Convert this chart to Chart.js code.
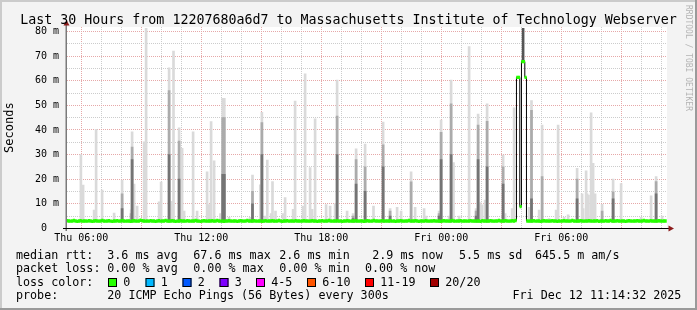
<!DOCTYPE html>
<html>
<head>
<meta charset="utf-8">
<script src="https://cdn.jsdelivr.net/npm/chart.js@4.4.1/dist/chart.umd.min.js"></script>
<style>
  html, body { margin: 0; padding: 0; background: #f3f3f3; }
  canvas { display: block; }
</style>
</head>
<body>
<canvas id="chart" width="697" height="310"></canvas>
<script>
const MONO = "'DejaVu Sans Mono', monospace";

const title = "Last 30 Hours from 12207680a6d7 to Massachusetts Institute of Technology Webserver";

// y axis (milliseconds)
const yTickValues = [0, 5, 10, 15, 20, 25, 30, 35, 40, 45, 50, 55, 60, 65, 70, 75, 80];
const yLabelValues = [0, 10, 20, 30, 40, 50, 60, 70, 80];
const yLabelText = ["0  ", "10 m", "20 m", "30 m", "40 m", "50 m", "60 m", "70 m", "80 m"];

// x axis (hours since Thu 00:00)
const xTickHours = [6, 7, 8, 9, 10, 11, 12, 13, 14, 15, 16, 17, 18, 19, 20, 21, 22, 23, 24, 25, 26, 27, 28, 29, 30, 31, 32, 33, 34, 35];
const xLabelHours = [6, 12, 18, 24, 30];
const xLabelText = ["Thu 06:00", "Thu 12:00", "Thu 18:00", "Fri 00:00", "Fri 06:00"];

// median rtt, one value every 5 minutes starting Thu 05:18
const medianStart = 5.3;
const medianStep = 5 / 60;
const median = [
  3.1, 3.0, 2.9, 3.0, 3.2, 3.0, 2.8, 3.0, 3.1, 2.9, 3.0, 3.0, 2.9, 3.1, 3.0, 2.8, 3.0, 3.1, 3.0, 2.9, 3.0, 3.2, 3.0, 2.9,
  3.0, 3.1, 2.9, 2.8, 3.0, 3.0, 3.1, 2.9, 3.0, 3.2, 3.0, 2.9, 3.0, 3.0, 2.8, 3.0, 3.1, 3.0, 2.9, 3.0, 3.3, 3.1, 3.0, 2.9,
  3.0, 2.9, 3.1, 3.0, 3.0, 2.8, 3.0, 3.1, 2.9, 3.0, 3.0, 3.2, 3.0, 2.9, 3.0, 3.1, 3.0, 2.8, 2.9, 3.0, 3.1, 3.0, 3.0, 2.9,
  3.1, 3.0, 2.9, 3.0, 3.0, 3.2, 3.0, 2.9, 2.8, 3.0, 3.1, 3.0, 2.9, 3.0, 3.0, 3.1, 2.9, 3.0, 3.2, 3.0, 2.9, 3.0, 2.8, 3.0,
  3.0, 3.1, 3.0, 2.9, 3.0, 3.0, 2.8, 3.0, 3.1, 3.0, 2.9, 3.0, 3.2, 3.0, 3.0, 2.9, 3.1, 3.0, 2.9, 3.0, 3.0, 2.8, 3.0, 3.1,
  2.9, 3.0, 3.0, 3.1, 3.0, 2.9, 3.0, 3.2, 3.0, 2.8, 3.0, 3.0, 3.1, 2.9, 3.0, 3.0, 2.9, 3.1, 3.0, 3.0, 2.9, 3.0, 3.1, 3.0,
  3.0, 2.9, 3.0, 3.1, 3.0, 3.0, 2.8, 3.0, 3.0, 3.1, 2.9, 3.0, 3.0, 3.2, 3.0, 2.9, 3.0, 3.0, 3.1, 2.9, 3.0, 2.8, 3.0, 3.0,
  3.1, 3.0, 2.9, 3.0, 3.0, 3.1, 3.0, 2.9, 3.0, 3.0, 2.8, 3.0, 3.1, 3.0, 2.9, 3.0, 3.2, 3.0, 3.0, 2.9, 3.0, 3.1, 2.9, 3.0,
  3.0, 3.0, 3.1, 2.9, 3.0, 2.8, 3.0, 3.0, 3.1, 3.0, 2.9, 3.0, 3.0, 3.2, 2.9, 3.0, 3.0, 3.1, 3.0, 2.8, 3.0, 3.0, 2.9, 3.1,
  3.0, 2.9, 3.0, 3.0, 3.1, 3.0, 2.9, 3.0, 2.8, 3.0, 3.1, 3.0, 3.0, 2.9, 3.0, 3.2, 3.0, 2.9, 3.0, 3.0, 3.1, 2.9, 3.0, 3.0,
  2.9, 3.0, 3.1, 3.0, 3.0, 2.9, 3.0, 3.0, 2.8, 3.1, 3.0, 3.0, 2.9, 3.0, 3.1, 3.0, 2.9, 3.0, 3.0, 3.2, 3.0, 2.9, 3.0, 3.1,
  3.0, 2.9, 3.0, 3.1, 3.0, 3.2, 61.4, 61.4, 8.8, 67.8, 67.8, 61.4, 3.0, 2.9, 3.0, 3.0, 3.1, 2.9, 3.0, 3.0, 2.8, 3.0, 3.1, 3.0,
  3.0, 2.9, 3.0, 3.1, 3.0, 3.0, 2.8, 3.0, 2.9, 3.0, 3.1, 3.0, 3.0, 2.9, 3.0, 3.2, 3.0, 2.9, 3.0, 3.0, 3.1, 3.0, 2.9, 3.0,
  3.0, 3.1, 3.0, 2.9, 3.0, 3.0, 3.1, 2.8, 3.0, 3.0, 2.9, 3.1, 3.0, 3.0, 3.2, 2.9, 3.0, 3.0, 3.1, 3.0, 2.9, 3.0, 3.0, 2.8,
  3.0, 3.1, 3.0, 2.9, 3.0, 3.0, 3.1, 3.0, 2.9, 3.0, 3.2, 3.0, 3.0, 2.9, 3.1, 3.0, 3.0, 2.9, 3.0, 3.1, 3.0, 2.9, 3.0, 3.0
];

// smoke spikes: hour, top of light smoke, top of mid smoke, top of dark smoke (0 = none)
const smokeFloor = 2.6;
const smokeHour = [5.98, 6.09, 6.64, 6.74, 7.04, 7.64, 8.04, 8.49, 8.54, 8.64, 8.79, 9.14, 9.24, 9.89, 9.99,
  10.39, 10.54, 10.61, 10.89, 11.04, 11.14, 11.59, 11.79, 12.29, 12.39, 12.49, 12.64, 12.96, 13.07, 13.15,
  13.39, 14.44, 14.56, 14.95, 15.03, 15.19, 15.30, 15.49, 15.56, 15.71, 16.09, 16.19, 16.59, 16.69, 17.09,
  17.19, 17.44, 17.54, 17.69, 18.24, 18.44, 18.69, 18.79, 19.29, 19.59, 19.74, 20.19, 20.61, 21.09, 21.44,
  21.79, 21.99, 22.49, 22.69, 23.14, 23.24, 23.89, 23.99, 24.39, 24.49, 24.61, 24.89, 25.39, 25.74, 25.84,
  25.94, 26.04, 26.19, 26.29, 27.09, 27.19, 27.54, 27.64, 28.39, 28.51, 28.89, 29.04, 29.39, 29.74, 29.84,
  30.14, 30.34, 30.79, 31.04, 31.09, 31.24, 31.29, 31.36, 31.49, 31.59, 31.69, 32.04, 32.59, 32.99, 33.99,
  34.49, 34.74, 35.04];
const smokeMax = [30, 17.6, 7.4, 40.3, 15.6, 6.2, 19.6, 7.5, 39.3, 18, 9, 35.2, 81.4, 10.8, 18.8,
  65.3, 11, 72.1, 40.9, 32.5, 7, 39.3, 7, 23, 9.6, 43.4, 27.5, 6, 52.9, 52.9,
  4.5, 4.5, 21.7, 17.7, 47.2, 5, 27.8, 6, 19, 7, 6, 12.5, 7.7, 51.8, 9,
  62.8, 24.7, 7.7, 44.5, 9.7, 9, 10, 60.3, 7, 6, 32.3, 34.3, 9, 43.2, 8,
  8.5, 7, 23, 8.5, 8, 5, 7, 44, 5, 60.3, 26.7, 5, 73.9, 8, 46.5,
  10.5, 9.5, 11.5, 50.6, 29.8, 6, 8, 49, 8.5, 52, 7.4, 42, 4, 7.4, 42,
  4.5, 5.5, 24.4, 14, 8, 23.4, 14, 13.5, 47, 26.4, 14, 9.8, 20, 18.2, 4.5,
  13.2, 21, 5];
const smokeMid = [0, 0, 0, 0, 0, 0, 14, 6, 33, 0, 0, 0, 0, 0, 0,
  56, 0, 0, 35.5, 0, 0, 0, 0, 0, 0, 0, 0, 0, 45, 45,
  0, 0, 15, 0, 43, 0, 0, 0, 0, 0, 0, 0, 0, 0, 0,
  0, 0, 0, 0, 0, 0, 0, 45.7, 0, 5, 28, 25, 0, 34, 7,
  0, 0, 18.9, 0, 0, 0, 6, 39, 0, 50.6, 0, 0, 0, 7, 42,
  0, 0, 0, 43.5, 25, 0, 0, 0, 0, 48, 0, 21, 0, 0, 0,
  0, 0, 20, 0, 0, 0, 0, 0, 0, 0, 0, 7, 14.8, 0, 0,
  0, 19, 0];
const smokeDark = [0, 0, 0, 0, 0, 0, 8, 0, 28, 0, 0, 0, 0, 0, 0,
  30, 0, 0, 20, 0, 0, 0, 0, 0, 0, 0, 0, 0, 22, 22,
  0, 0, 10, 0, 30, 0, 0, 0, 0, 0, 0, 0, 0, 0, 0,
  0, 0, 0, 0, 0, 0, 0, 30, 0, 4, 18, 15, 0, 25, 5,
  0, 0, 0, 0, 0, 0, 5, 28, 0, 30, 0, 0, 0, 5, 28,
  0, 0, 0, 25, 18, 0, 0, 0, 0, 12, 0, 0, 0, 0, 0,
  0, 0, 12, 0, 0, 0, 0, 0, 0, 0, 0, 0, 12, 0, 0,
  0, 14, 0];

// smoke sitting above the raised median
const highSmokeHour = [28.09];
const highSmokeLow = [67.8];
const highSmokeHigh = [81.4];

// legend rows
const statsRtt = ["3.6 ms avg", "67.6 ms max", "2.6 ms min", "2.9 ms now", "5.5 ms sd", "645.5 m am/s"];
const statsLoss = ["0.00 % avg", "0.00 % max", "0.00 % min", "0.00 % now"];
const lossLabels = ["0", "1", "2", "3", "4-5", "6-10", "11-19", "20/20"];
const lossColors = ["#26ff00", "#00b8ff", "#0059ff", "#7e00ff", "#ff00ff", "#ff5500", "#ff0000", "#a10000"];
const probeText = "20 ICMP Echo Pings (56 Bytes) every 300s";
const stampText = "Fri Dec 12 11:14:32 2025";

const PINK = "#e6a8a8";
const GRAY = "#cccccc";

function bars(valueArr, lowArr) {
  const out = [];
  smokeHour.forEach((h, k) => {
    if (valueArr[k] > 0) out.push({ x: h, y: [lowArr ? lowArr[k] : smokeFloor, valueArr[k]] });
  });
  return out;
}

const decor = {
  id: "decor",
  beforeDraw(chart) {
    const { ctx, chartArea: a } = chart;
    ctx.save();
    ctx.fillStyle = "#f3f3f3";
    ctx.fillRect(0, 0, 697, 310);
    ctx.fillStyle = "#cbcbcb";
    ctx.fillRect(0, 0, 697, 2);
    ctx.fillRect(0, 0, 2, 310);
    ctx.fillStyle = "#9a9a9a";
    ctx.fillRect(0, 308, 697, 2);
    ctx.fillRect(695, 0, 2, 310);
    ctx.fillStyle = "#ffffff";
    ctx.fillRect(a.left, a.top, a.right - a.left, a.bottom - a.top);
    ctx.restore();
  },
  afterDatasetsDraw(chart) {
    const { ctx } = chart;
    ctx.save();
    // axes
    ctx.fillStyle = "#7a7a7a";
    ctx.fillRect(65.5, 23, 1.5, 208);
    ctx.strokeStyle = "#000";
    ctx.lineWidth = 1;
    ctx.beginPath();
    ctx.moveTo(63, 228.5);
    ctx.lineTo(669, 228.5);
    ctx.stroke();
    // arrows
    ctx.fillStyle = "#8c1c1c";
    ctx.beginPath();
    ctx.moveTo(66.5, 20);
    ctx.lineTo(63.5, 25.5);
    ctx.lineTo(69.5, 25.5);
    ctx.closePath();
    ctx.fill();
    ctx.beginPath();
    ctx.moveTo(674, 228.5);
    ctx.lineTo(668.5, 225.5);
    ctx.lineTo(668.5, 231.5);
    ctx.closePath();
    ctx.fill();
    ctx.restore();
  },
  afterDraw(chart) {
    const { ctx } = chart;
    ctx.save();
    ctx.fillStyle = "#000";
    ctx.textBaseline = "alphabetic";
    ctx.textAlign = "center";
    ctx.font = "13.3px " + MONO;
    ctx.fillText(title, 348.5, 24);

    ctx.textAlign = "left";
    ctx.font = "11.7px " + MONO;
    const rows = [258.5, 272, 285.6, 299.2];
    ctx.fillText("median rtt:", 16, rows[0]);
    [107.3, 193.3, 279.3, 372.3, 459, 535].forEach((x, k) => ctx.fillText(statsRtt[k], x, rows[0]));
    ctx.fillText("packet loss:", 16, rows[1]);
    [107.3, 193.3, 279.3, 365].forEach((x, k) => ctx.fillText(statsLoss[k], x, rows[1]));
    ctx.fillText("loss color:", 16, rows[2]);
    [108, 145.5, 182.5, 219.5, 256, 307, 365, 430].forEach((x, k) => {
      ctx.fillStyle = lossColors[k];
      ctx.fillRect(x, 278, 9, 9);
      ctx.strokeStyle = "#000";
      ctx.lineWidth = 1;
      ctx.strokeRect(x + 0.5, 278.5, 8, 8);
      ctx.fillStyle = "#000";
      ctx.fillText(lossLabels[k], x + 15.3, rows[2]);
    });
    ctx.fillText("probe:", 16, rows[3]);
    ctx.fillText(probeText, 107.3, rows[3]);
    ctx.fillText(stampText, 512.5, rows[3]);

    // watermark
    ctx.fillStyle = "#b4b4b4";
    ctx.font = "8px " + MONO;
    ctx.translate(688.5, 5);
    ctx.rotate(Math.PI / 2);
    ctx.textBaseline = "middle";
    ctx.fillText("RRDTOOL / TOBI OETIKER", 0, 0);
    ctx.restore();
  }
};

Chart.defaults.font.family = MONO;

new Chart(document.getElementById("chart").getContext("2d"), {
  type: "line",
  data: {
    datasets: [
      {
        label: "median loss 0",
        data: median.map((v, i) => ({ x: medianStart + i * medianStep, y: v })),
        showLine: false,
        pointStyle: "line",
        pointRadius: 1.1,
        pointBorderWidth: 3.4,
        pointBorderColor: "#26ff00",
        order: 0
      },
      {
        label: "median",
        data: median.map((v, i) => ({ x: medianStart + i * medianStep, y: v })),
        stepped: "middle",
        borderColor: "#000",
        borderWidth: 1,
        pointRadius: 0,
        order: 1
      },
      {
        type: "bar",
        label: "high smoke",
        data: highSmokeHour.map((h, k) => ({ x: h, y: [highSmokeLow[k], highSmokeHigh[k]] })),
        backgroundColor: "#555555",
        barThickness: 2,
        grouped: false,
        order: 2
      },
      {
        type: "bar",
        label: "smoke dark",
        data: bars(smokeDark),
        backgroundColor: "#747474",
        barThickness: 2,
        grouped: false,
        order: 3
      },
      {
        type: "bar",
        label: "smoke mid",
        data: bars(smokeMid),
        backgroundColor: "#ababab",
        barThickness: 2,
        grouped: false,
        order: 4
      },
      {
        type: "bar",
        label: "smoke light",
        data: bars(smokeMax),
        backgroundColor: "#dadada",
        barThickness: 2,
        grouped: false,
        order: 5
      }
    ]
  },
  options: {
    responsive: false,
    animation: false,
    events: [],
    layout: { padding: { left: 0, right: 30, top: 27, bottom: 0 } },
    plugins: { legend: { display: false }, tooltip: { enabled: false } },
    scales: {
      x: {
        type: "linear",
        min: 5.285,
        max: 35.285,
        offset: false,
        afterBuildTicks: (s) => { s.ticks = xTickHours.map((v) => ({ value: v })); },
        afterFit: (s) => { s.height = 81.7; },
        grid: {
          color: (c) => (c.tick && c.tick.value % 3 === 0 ? PINK : GRAY),
          drawTicks: false,
          offset: false
        },
        border: { display: false, dash: [1, 1] },
        ticks: {
          autoSkip: false,
          maxRotation: 0,
          minRotation: 0,
          padding: 4,
          color: "#000",
          font: { family: MONO, size: 10 },
          callback: (v) => {
            const k = xLabelHours.indexOf(v);
            return k < 0 ? "" : xLabelText[k];
          }
        }
      },
      y: {
        min: 0,
        max: 81.9,
        afterBuildTicks: (s) => { s.ticks = yTickValues.map((v) => ({ value: v })); },
        afterFit: (s) => { s.width = 67; },
        grid: {
          color: (c) => (c.tick && c.tick.value % 10 === 0 ? PINK : GRAY),
          drawTicks: false
        },
        border: { display: false, dash: [1, 1] },
        title: {
          display: true,
          text: "Seconds",
          color: "#000",
          font: { family: MONO, size: 12 },
          padding: { top: 3, bottom: 0 }
        },
        ticks: {
          autoSkip: false,
          padding: 8,
          color: "#000",
          font: { family: MONO, size: 10 },
          callback: (v) => {
            const k = yLabelValues.indexOf(v);
            return k < 0 ? "" : yLabelText[k];
          }
        }
      }
    }
  },
  plugins: [decor]
});
</script>
</body>
</html>
